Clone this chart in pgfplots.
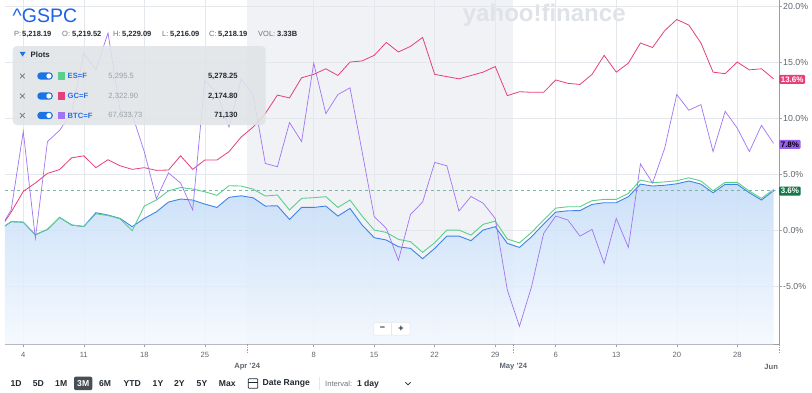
\documentclass[border=0pt]{standalone}
\usepackage{fontspec}
\setmainfont{Liberation Sans}
\usepackage{pgfplots}
\pgfplotsset{compat=1.18}
\usepackage{pgfplotstable}
\newcommand\fs[1]{\fontsize{#1bp}{#1bp}\selectfont}
\definecolor{spblue}{HTML}{3D84E6}
\definecolor{esgreen}{HTML}{5CCF8C}
\definecolor{gcpink}{HTML}{E6407A}
\definecolor{btcpurple}{HTML}{A274F2}
\definecolor{areatop}{HTML}{C2DBF8}
\definecolor{areabot}{HTML}{F4F9FF}
\definecolor{bandgray}{HTML}{F0F2F6}
\definecolor{gridgray}{HTML}{E4E7EB}
\definecolor{axisgray}{HTML}{9AA0A6}
\definecolor{tickgray}{HTML}{5F666E}
\definecolor{dashcol}{HTML}{7DB5A3}
\definecolor{dotblue}{HTML}{5AA2E8}
\definecolor{titleblue}{HTML}{1D62E8}
\definecolor{nameblue}{HTML}{2A6EE8}
\definecolor{toggleblue}{HTML}{1B74E4}
\definecolor{panelgray}{HTML}{E1E4E7}
\definecolor{darktext}{HTML}{232A31}
\definecolor{labgray}{HTML}{6E757C}
\definecolor{valgray}{HTML}{9AA0A6}
\definecolor{wmgray}{HTML}{DFE2E6}
\definecolor{btnbox}{HTML}{464E56}
\definecolor{labgreen}{HTML}{137A47}
\definecolor{labpurple}{HTML}{9B5EF5}
\pgfplotstableread{
i sp es gc btc
-2 0 0 0 0
-1 0.75 0.75 1.6 1.8
0 0.70 0.70 3.45 8.8
1 -0.42 -0.42 4.2 -0.74
2 0.06 0.06 5.06 7.9
3 1.13 1.13 5.4 8.9
4 0.45 0.45 6.45 10.5
5 0.32 0.32 6.63 15.8
6 1.55 1.45 5.57 14.3
7 1.34 1.30 6.28 17.6
8 1.04 1.00 5.74 10.7
9 0.30 -0.06 5.42 10.3
10 1.04 2.14 5.57 7.0
11 1.63 2.68 5.33 2.8
12 2.50 3.50 5.36 5.1
13 2.77 3.80 6.63 4.2
14 2.68 3.66 5.42 1.8
15 2.32 3.42 6.25 13.4
16 2.02 3.10 6.25 12.2
17 2.92 3.96 7.0 9.2
18 3.06 3.93 8.3 13.5
19 2.88 3.65 9.2 12.05
20 2.14 3.04 10.4 5.95
21 2.17 3.13 12.05 5.65
22 0.95 1.79 11.8 9.6
23 2.02 2.83 13.6 7.9
24 2.02 2.89 13.9 14.9
25 2.14 2.98 14.4 10.4
26 1.25 2.02 13.8 12.1
27 1.93 2.68 15.0 12.7
28 0.45 1.25 15.1 7.0
29 -0.68 0.00 15.6 1.2
30 -0.89 -0.21 16.75 0.15
31 -1.49 -0.83 15.9 -2.7
32 -1.64 -1.04 16.4 1.4
33 -2.56 -1.99 17.2 2.5
34 -1.64 -1.13 13.9 6.04
35 -0.54 0.00 13.7 5.74
36 -0.54 0.00 13.5 1.7
37 -0.95 -0.45 13.8 3.0
38 0.00 0.51 14.1 2.4
39 0.30 0.80 14.6 1.04
40 -1.19 -0.80 12.0 -5.36
41 -1.55 -1.14 12.35 -8.6
42 -0.60 -0.21 12.3 -5.06
43 0.54 0.89 12.3 -0.3
44 1.60 1.96 13.4 1.25
45 1.72 2.08 13.1 0.9
46 1.74 2.08 13.0 -0.54
47 2.29 2.62 13.9 0.06
48 2.44 2.74 15.6 -2.98
49 2.44 2.74 14.1 1.04
50 2.98 3.27 14.9 -1.55
51 4.10 4.46 16.7 5.9
52 3.93 4.23 16.3 4.2
53 4.00 4.30 17.8 7.3
54 4.13 4.40 18.8 12.1
55 4.38 4.67 18.3 10.7
56 4.10 4.38 16.7 11.2
57 3.33 3.51 14.1 7.0
58 4.08 4.26 13.96 10.6
59 4.08 4.26 15.0 9.1
60 3.33 3.48 14.3 7.0
61 2.68 2.83 14.4 9.35
62 3.51 3.63 13.5 7.74
}\data
\begin{document}
\begin{tikzpicture}
\useasboundingbox (0,0) rectangle (812bp,-393bp);
\fill[white] (0,0) rectangle (812bp,-393bp);
\begin{scope}[x=1bp,y=-1bp]
  \fill[bandgray] (247.3,0) rectangle (513.4,344.3);
  \node[anchor=west, inner sep=0pt, font=\fs{24}\bfseries, text=wmgray] at (462.7,15.5) {yahoo!finance};
\end{scope}
\begin{axis}[
  at={(5bp,-344.3bp)}, anchor=south west, scale only axis,
  width=774bp, height=344.3bp,
  xmin=-1.51, xmax=62.45, ymin=-10.2, ymax=20.54,
  clip mode=individual,
  axis x line=bottom, axis y line=right,
  axis line style={-, draw=axisgray, line width=0.6bp},
  x axis line style={-}, y axis line style={-},
  xtick={0,5,10,15,24,29,34,39,44,49,54,59},
  xticklabels={4,11,18,25,8,15,22,29,6,13,20,28},
  ytick={-5,0,5,10,15,20},
  /pgf/number format/assume math mode=true,
  yticklabel={\pgfmathprintnumber[fixed,fixed zerofill,precision=1]{\tick}\%},
  grid=major, major grid style={draw=gridgray, line width=0.5bp},
  tick align=outside, major tick length=3bp,
  tick style={draw=axisgray, line width=0.5bp},
  xticklabel style={font=\fs{7.6}, text=tickgray, inner sep=0pt, anchor=north, yshift=-5bp},
  yticklabel style={font=\fs{8.8}, text=tickgray, inner sep=0pt, anchor=west, xshift=1bp},
]
\addplot[draw=none, top color=areatop, bottom color=areabot, fill opacity=0.85]
  table[x=i,y=sp]{\data} -- (axis cs:62,-10.2) -- (axis cs:-2,-10.2) -- cycle;
\addplot[dashcol, dash pattern=on 3bp off 3bp, line width=0.7bp] coordinates {(-1.51,3.51) (62.45,3.51)};
\addplot[spblue, line width=0.9bp] table[x=i,y=sp]{\data};
\addplot[esgreen, line width=0.9bp] table[x=i,y=es]{\data};
\addplot[gcpink, line width=0.8bp] table[x=i,y=gc]{\data};
\addplot[btcpurple, line width=0.7bp] table[x=i,y=btc]{\data};
\addplot[only marks, mark=*, mark size=1.8bp, mark options={fill=dotblue, draw=white, line width=0.3bp}] coordinates {(62,3.51)};
% right value labels
\node[anchor=west, fill=gcpink, text=white, font=\fs{8}\bfseries, inner sep=1.6bp, rounded corners=1bp] at (axis cs:62.45,13.45) {13.6\%};
\node[anchor=west, fill=labpurple, text=black, font=\fs{8}\bfseries, inner sep=1.6bp, rounded corners=1bp] at (axis cs:62.45,7.65) {7.8\%};
\node[anchor=west, fill=labgreen, text=white, font=\fs{8}\bfseries, inner sep=1.6bp, rounded corners=1bp] at (axis cs:62.45,3.48) {3.6\%};
% month boundaries
\draw[axisgray, dash pattern=on 1.5bp off 1bp, line width=0.5bp] (axis cs:18.5,-10.2) -- ([yshift=-8bp]axis cs:18.5,-10.2);
\draw[axisgray, dash pattern=on 1.5bp off 1bp, line width=0.5bp] (axis cs:40.5,-10.2) -- ([yshift=-8bp]axis cs:40.5,-10.2);
\draw[axisgray, dash pattern=on 1.5bp off 1bp, line width=0.5bp] (axis cs:62.45,-10.2) -- ([yshift=-8bp]axis cs:62.45,-10.2);
\node[font=\fs{7.6}\bfseries, text=tickgray] at (axis cs:18.5,-10.2) [yshift=-22.5bp] {Apr '24};
\node[font=\fs{7.6}\bfseries, text=tickgray] at (axis cs:40.5,-10.2) [yshift=-22.5bp] {May '24};
\node[font=\fs{7.6}\bfseries, text=tickgray] at (axis cs:61.8,-10.2) [yshift=-22.5bp] {Jun};
\end{axis}
\begin{scope}[x=1bp,y=-1bp]
  % header
  \node[anchor=west, inner sep=0pt, font=\fs{19.5}, text=titleblue] at (12.5,15.5) {\textasciicircum GSPC};
  \foreach \x/\t in {14/P:, 62/O:, 113/H:, 162/L:, 209/C:, 258/VOL:}{
    \node[anchor=west, inner sep=0pt, font=\fs{7.5}, text=labgray] at (\x,34.3) {\t};
  }
  \foreach \x/\t in {22/{5,218.19}, 72/{5,219.52}, 122/{5,229.09}, 170/{5,216.09}, 218/{5,218.19}, 277/{3.33B}}{
    \node[anchor=west, inner sep=0pt, font=\fs{7.5}\bfseries, text=darktext] at (\x,34.3) {\t};
  }
  % legend panel
  \fill[panelgray, fill opacity=0.88, rounded corners=4bp] (12.7,46) rectangle (265.7,125);
  \fill[toggleblue] (19.6,51.8) -- (25.6,51.8) -- (22.6,56.6) -- cycle;
  \node[anchor=west, inner sep=0pt, font=\fs{7.8}\bfseries, text=darktext] at (30.5,54.3) {Plots};
  \foreach \y/\col/\nm/\va/\vb in {76/esgreen/ES=F/{5,295.5}/{5,278.25}, 96/gcpink/GC=F/{2,322.90}/{2,174.80}, 115.5/btcpurple/BTC=F/{67,633.73}/{71,130}}{
    \draw[labgray, line width=0.7bp] (20,\y-2.4) -- (24.8,\y+2.4) (20,\y+2.4) -- (24.8,\y-2.4);
    \fill[toggleblue, rounded corners=3.5bp] (37.3,\y-3.7) rectangle (52.8,\y+3.7);
    \fill[white] (48.9,\y) circle (2.6bp);
    \fill[\col] (57.5,\y-3.8) rectangle (65,\y+3.8);
    \node[anchor=west, inner sep=0pt, font=\fs{7.6}\bfseries, text=nameblue] at (67.5,\y) {\nm};
    \node[anchor=west, inner sep=0pt, font=\fs{7.6}, text=valgray] at (108.3,\y) {\va};
    \node[anchor=east, inner sep=0pt, font=\fs{7.6}\bfseries, text=darktext] at (237.8,\y) {\vb};
  }
  % zoom buttons
  \fill[white, draw=gridgray, line width=0.5bp, rounded corners=1.5bp] (373.3,322.7) rectangle (410,335.2);
  \draw[gridgray, line width=0.5bp] (391.7,322.7) -- (391.7,335.2);
  \node[inner sep=0pt, font=\fs{9}\bfseries, text=darktext] at (382.5,328.9) {−};
  \node[inner sep=0pt, font=\fs{9}\bfseries, text=darktext] at (401,328.9) {+};
  % toolbar
  \fill[btnbox, rounded corners=2bp] (74,376.6) rectangle (92.3,390.2);
  \foreach \x/\t in {16/1D, 38.3/5D, 61.2/1M, 105/6M, 132.2/YTD, 158/1Y, 179.3/2Y, 202/5Y, 227.3/Max}{
    \node[inner sep=0pt, font=\fs{8.6}\bfseries, text=darktext] at (\x,383.5) {\t};
  }
  \node[inner sep=0pt, font=\fs{8.6}\bfseries, text=white] at (83.2,383.5) {3M};
  \draw[darktext, line width=0.7bp, rounded corners=0.8bp] (248.3,378.8) rectangle (257.8,388.3);
  \draw[darktext, line width=0.7bp] (248.3,382) -- (257.8,382);
  \node[anchor=west, inner sep=0pt, font=\fs{8.6}\bfseries, text=darktext] at (262.5,383.5) {Date Range};
  \draw[gridgray, line width=0.7bp] (319.3,377) -- (319.3,390);
  \node[anchor=west, inner sep=0pt, font=\fs{7.6}, text=labgray] at (325,384) {Interval:};
  \node[anchor=west, inner sep=0pt, font=\fs{8.6}\bfseries, text=darktext] at (356.8,384.2) {1 day};
  \draw[darktext, line width=0.7bp] (405.4,382.2) -- (408,384.8) -- (410.6,382.2);
\end{scope}
\end{tikzpicture}
\end{document}
